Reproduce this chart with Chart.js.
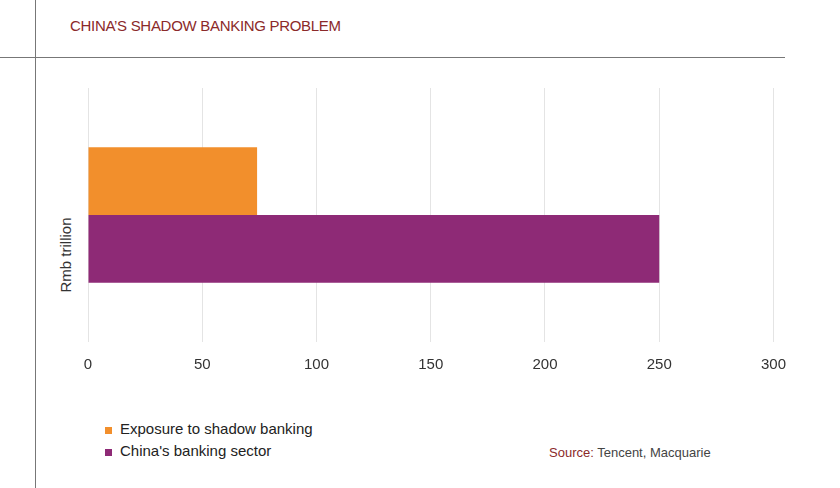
<!DOCTYPE html>
<html><head><meta charset="utf-8">
<script src="https://cdn.jsdelivr.net/npm/chart.js@4/dist/chart.umd.min.js"></script>
<style>
body{margin:0;width:840px;height:488px;background:#fff;font-family:"Liberation Sans",Arial,sans-serif;position:relative;overflow:hidden}
.abs{position:absolute}
</style></head><body>
<div class="abs" style="left:35px;top:0;width:1px;height:488px;background:#777"></div>
<div class="abs" style="left:0;top:57px;width:785px;height:1px;background:#777"></div>
<div class="abs" style="left:70px;top:17px;font-size:15px;color:#8b2a2a;letter-spacing:-0.3px">CHINA’S SHADOW BANKING PROBLEM</div>
<div class="abs" style="left:65px;top:255px;transform:translate(-50%,-50%) rotate(-90deg);font-size:15px;color:#333;white-space:nowrap">Rmb trillion</div>
<div class="abs" style="left:60px;top:88px;width:740px;height:300px"><canvas id="c"></canvas></div>
<div class="abs" style="left:105px;top:418px;font-size:15px;color:#222;line-height:22px">
<div><span style="display:inline-block;width:7px;height:7px;background:#f28f2c;margin-right:8px;vertical-align:middle"></span>Exposure to shadow banking</div>
<div><span style="display:inline-block;width:7px;height:7px;background:#8e2a76;margin-right:8px;vertical-align:middle"></span>China's banking sector</div>
</div>
<div class="abs" style="left:549px;top:445px;font-size:13px;color:#444"><span style="color:#8b2a2a">Source:</span> Tencent, Macquarie</div>
<script>
const categories=["Rmb trillion"];
const shadowExposure=[74];
const bankingSector=[250];
const xTicks=[0,50,100,150,200,250,300];
new Chart(document.getElementById('c'),{type:'bar',
data:{labels:categories,datasets:[
{label:'Exposure to shadow banking',data:shadowExposure,backgroundColor:'#f28f2c',barPercentage:1,categoryPercentage:0.534},
{label:"China's banking sector",data:bankingSector,backgroundColor:'#8e2a76',barPercentage:1,categoryPercentage:0.534}]},
options:{indexAxis:'y',responsive:true,maintainAspectRatio:false,animation:false,
layout:{padding:{right:0}},
plugins:{legend:{display:false},tooltip:{enabled:false}},
scales:{
x:{min:0,max:300,afterBuildTicks:s=>{s.ticks=xTicks.map(v=>({value:v}))},
grid:{color:'#e4e4e4',drawTicks:false},border:{display:false},
ticks:{padding:14,color:'#333',font:{size:15,family:'"Liberation Sans",Arial'}}},
y:{afterFit:s=>{s.width=28},ticks:{display:false},grid:{display:false},border:{display:false}}
}}});
</script></body></html>
